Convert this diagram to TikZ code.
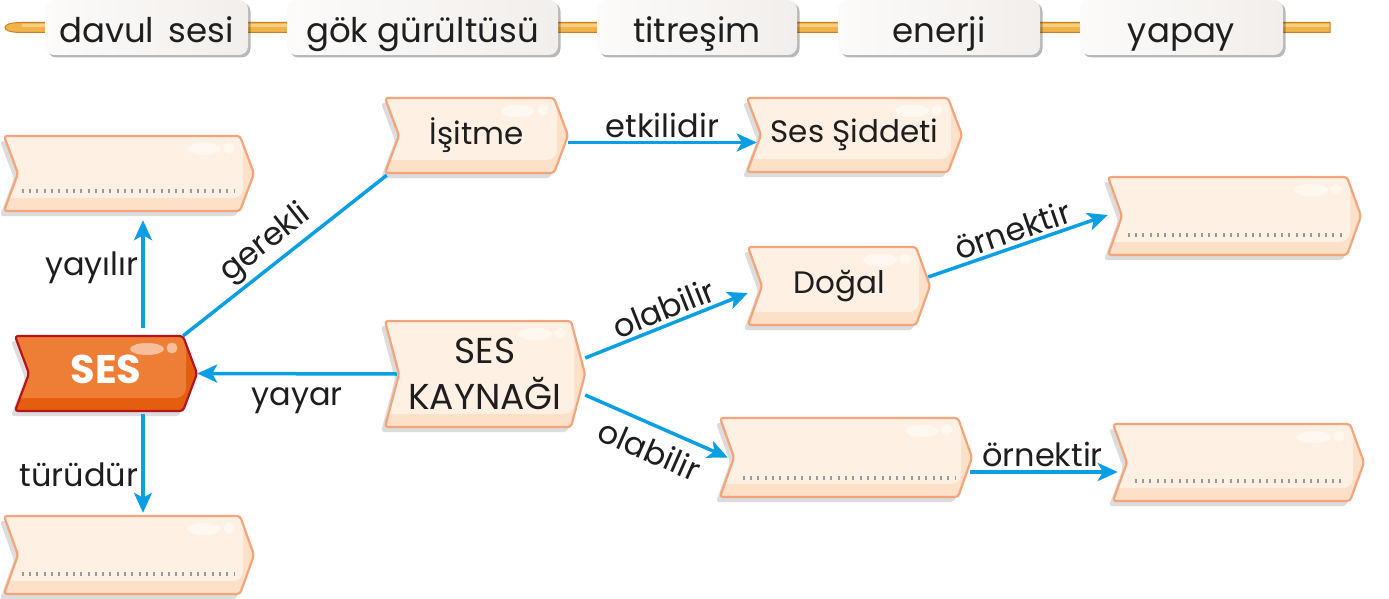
\documentclass[tikz,border=0pt]{standalone}
\usepackage{fontspec}
\setmainfont{Poppins}
\usetikzlibrary{arrows.meta,calc,shadows}
\definecolor{arrowc}{HTML}{0A9FE2}
\definecolor{boxfill}{HTML}{FEF1E4}
\definecolor{boxband}{HTML}{FCE0C8}
\definecolor{boxline}{HTML}{F3A47A}
\definecolor{shadowc}{HTML}{DCDCDC}
\definecolor{sesfill}{HTML}{EE7D35}
\definecolor{sesband}{HTML}{E45E10}
\definecolor{sesline}{HTML}{B5141C}
\definecolor{cardl}{HTML}{FCFBFA}
\definecolor{cardr}{HTML}{F2EEEB}
\definecolor{rodfill}{HTML}{F0B34C}
\definecolor{rodlight}{HTML}{F7D07E}
\definecolor{rodline}{HTML}{D07E26}
\definecolor{textc}{HTML}{1E1E1E}
\definecolor{dotc}{HTML}{9A9A9A}

% #1 name, #2 x0, #3 y0, #4 x1, #5 y1, #6 colour prefix, #7 node options, #8 text
\newcommand\chevbox[8]{%
  \pgfmathsetmacro\cxa{#2+14}%
  \pgfmathsetmacro\cxb{#4-14}%
  \pgfmathsetmacro\cym{(#3+#5)/2}%
  \pgfmathsetmacro\cxm{(#2+#4)/2}%
  \pgfmathsetmacro\cw{#4-#2}%
  \pgfmathsetmacro\ch{#5-#3}%
  \fill[shadowc,rounded corners=3pt] (#2-4,#3+5) -- (\cxb-4,#3+5) -- (#4-4,\cym+5) -- (\cxb-4,#5+5) -- (#2-4,#5+5) -- (\cxa-4,\cym+5) -- cycle;
  \begin{scope}
    \clip[rounded corners=3pt] (#2,#3) -- (\cxb,#3) -- (#4,\cym) -- (\cxb,#5) -- (#2,#5) -- (\cxa,\cym) -- cycle;
    \fill[#6band] (#2,#3) rectangle (#4,#5);
    \fill[#6fill,rounded corners=10pt] (#2-20,#3-20) rectangle (\cxb+3,#5-13);
    \fill[white,opacity=.5] (\cxb-36,#3+13) ellipse [x radius=17,y radius=6];
    \fill[white,opacity=.5] (\cxb-11,#3+12) circle [radius=5.5];
  \end{scope}
  \draw[#6line,line width=2.2pt,rounded corners=3pt,line join=round] (#2,#3) -- (\cxb,#3) -- (#4,\cym) -- (\cxb,#5) -- (#2,#5) -- (\cxa,\cym) -- cycle;
  \node[inner sep=0pt,minimum width=\cw,minimum height=\ch,#7] (#1) at (\cxm,\cym) {#8};
}

\begin{document}
\begin{tikzpicture}[x=1pt,y=-1pt,
  card/.style={rounded corners=9pt, left color=cardl, right color=cardr, inner sep=0pt,
    minimum height=55pt, text height=31pt, text depth=0pt,
    font=\fontsize{34}{40}\selectfont, text=textc,
    drop shadow={shadow xshift=2.5pt, shadow yshift=-2.5pt, fill=black, opacity=.28}},
  bt/.style={font=\fontsize{31}{36}\selectfont, text=textc},
  lab/.style={font=\fontsize{32}{36}\selectfont, text=textc, inner sep=3pt},
  arr/.style={draw=arrowc, line width=3.5pt, -{Stealth[length=20pt,width=18pt,inset=5pt]}},
  link/.style={draw=arrowc, line width=3.5pt},
  dotline/.style={draw=dotc, line width=3.5pt, dash pattern=on 2pt off 5.3pt}]
\useasboundingbox (0,0) rectangle (1389,599);
\fill[white] (0,0) rectangle (1389,599);

% rod
\draw[rodline, fill=rodfill, line width=1pt] (1330,22.5) -- (22,22.5) .. controls (9,22.5) and (5,25) .. (5,27.5) .. controls (5,30) and (9,32.5) .. (22,32.5) -- (1330,32.5) -- cycle;
\fill[rodlight] (22,24.5) -- (1329,24.5) -- (1329,27.5) -- (22,27.5) -- cycle;

% word cards
\node[card, minimum width=203pt] (w1) at (146.5,27.5) {davul\, sesi};
\node[card, minimum width=271pt] (w2) at (422.5,27.5) {gök gürültüsü};
\node[card, minimum width=200pt] (w3) at (697,27.5) {titreşim};
\node[card, minimum width=202pt] (w4) at (939,27.5) {enerji};
\node[card, minimum width=203pt] (w5) at (1181.5,27.5) {yapay};

% boxes
\chevbox{bl1}{4}{136}{254}{211}{box}{bt}{}
\chevbox{isitme}{385}{98}{568}{173}{box}{bt}{İşitme}
\chevbox{sesS}{747}{98}{962}{172}{box}{bt}{Ses Şiddeti}
\chevbox{ses}{15}{336}{197}{411}{ses}{font=\fontsize{40}{44}\selectfont\bfseries, text=white, text height=28pt, text depth=8pt}{SES}
\chevbox{sesk}{385}{321}{585}{427}{box}{font=\fontsize{36}{46}\selectfont, text=textc, align=center}{SES\\KAYNAĞI}
\chevbox{dogal}{748}{247}{930}{325}{box}{bt}{Doğal}
\chevbox{tr}{1108}{177}{1361}{255}{box}{bt}{}
\chevbox{mid}{720}{418}{972}{497}{box}{bt}{}
\chevbox{br}{1113}{424}{1364}{501}{box}{bt}{}
\chevbox{bl2}{4}{516}{254}{594}{box}{bt}{}

% dotted answer lines
\draw[dotline] ([xshift=18pt,yshift=20pt]bl1.south west) -- ([xshift=-19pt,yshift=20pt]bl1.south east);
\draw[dotline] ([xshift=20pt,yshift=20pt]tr.south west) -- ([xshift=-19pt,yshift=20pt]tr.south east);
\draw[dotline] ([xshift=23pt,yshift=19pt]mid.south west) -- ([xshift=-17pt,yshift=19pt]mid.south east);
\draw[dotline] ([xshift=22pt,yshift=20pt]br.south west) -- ([xshift=-19pt,yshift=20pt]br.south east);
\draw[dotline] ([xshift=18pt,yshift=20pt]bl2.south west) -- ([xshift=-19pt,yshift=20pt]bl2.south east);

% connectors
\draw[arr] ([xshift=37pt,yshift=8pt]ses.north) -- node[pos=.56,left,lab]{yayılır} ([xshift=14pt,yshift=-9pt]bl1.south);
\draw[arr] ([xshift=37pt,yshift=-3pt]ses.south) -- node[pos=.61,left,lab]{türüdür} ([xshift=14pt,yshift=3pt]bl2.north);
\draw[link] ([xshift=-14pt]ses.north east) -- node[pos=.47,above,sloped,lab]{gerekli} ([xshift=2pt,yshift=-2pt]isitme.south west);
\draw[arr] ([xshift=12pt]sesk.west) -- node[pos=.5,below=9pt,lab]{yayar} (ses.east);
\draw[arr] ([yshift=-7pt]isitme.east) -- node[pos=.5,above,lab]{etkilidir} ([xshift=10pt,yshift=-7.5pt]sesS.west);
\draw[arr] ([yshift=16pt]sesk.east) -- node[pos=.52,above,sloped,lab]{olabilir} ([yshift=-7pt]dogal.west);
\draw[arr] ([yshift=-21pt]sesk.east) -- node[pos=.52,below=7pt,sloped,lab]{olabilir} ([xshift=8pt]mid.west);
\draw[arr] ([xshift=-2pt,yshift=9pt]dogal.east) -- node[pos=.5,above,sloped,lab]{örnektir} ([yshift=1pt]tr.west);
\draw[arr] ([xshift=-2pt,yshift=-14.5pt]mid.east) -- node[pos=.49,above,lab]{örnektir} ([xshift=5pt,yshift=-9.5pt]br.west);
\end{tikzpicture}
\end{document}
